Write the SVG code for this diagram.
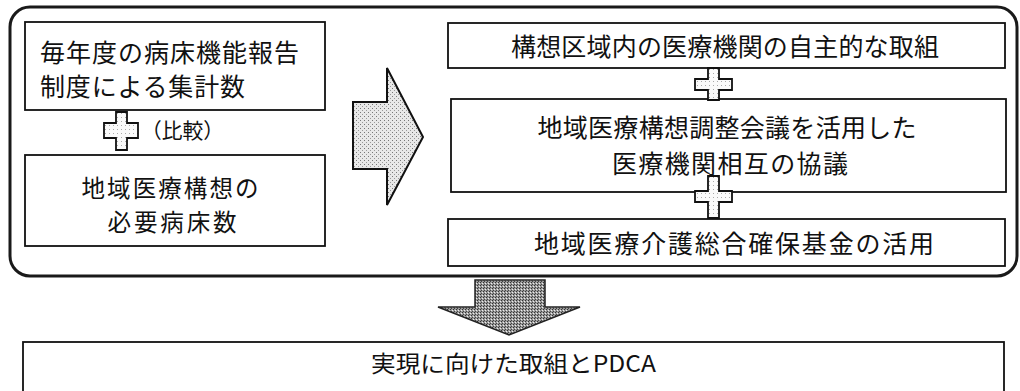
<svg xmlns="http://www.w3.org/2000/svg" width="1020" height="391" viewBox="0 0 1020 391">
<defs>
<pattern id="dots" width="4" height="4" patternUnits="userSpaceOnUse">
<rect width="4" height="4" fill="#e8e8e8"/>
<rect x="0" y="0" width="1" height="1" fill="#777"/>
<rect x="2" y="2" width="1" height="1" fill="#999"/>
</pattern>
<pattern id="dark" width="3" height="3" patternUnits="userSpaceOnUse">
<rect width="3" height="3" fill="#9a9a9a"/>
<rect x="0" y="0" width="1" height="1" fill="#333"/>
<rect x="2" y="1" width="1" height="1" fill="#eee"/>
<rect x="1" y="2" width="1" height="1" fill="#444"/>
</pattern>
<pattern id="light" width="4" height="4" patternUnits="userSpaceOnUse">
<rect width="4" height="4" fill="#fafafa"/>
<rect x="1" y="1" width="1" height="1" fill="#aaa"/>
</pattern>
</defs>
<style>
.box{fill:#fff;stroke:#111;stroke-width:1.8}
.t{font-family:"Noto Sans CJK JP","Noto Sans CJK SC",sans-serif;font-size:25px;fill:#111}
.m{text-anchor:middle}
.cross{fill:url(#light);stroke:#111;stroke-width:1.8}
</style>
<rect width="1020" height="391" fill="#fff"/>
<g id="frame">
<rect x="10" y="7" width="1007" height="269" rx="20" ry="20" fill="none" stroke="#1a1a1a" stroke-width="3"/>
</g>
<g id="node-report">
<rect class="box" x="25" y="22" width="300" height="88"/>
<text class="t" x="40" y="61.5" textLength="259" lengthAdjust="spacing">毎年度の病床機能報告</text>
<text class="t" x="40" y="95.5" textLength="205" lengthAdjust="spacing">制度による集計数</text>
</g>
<g id="node-required">
<rect class="box" x="25" y="155" width="300" height="91"/>
<text class="t m" x="170" y="197" style="font-size:23.5px" textLength="177" lengthAdjust="spacing">地域医療構想の</text>
<text class="t m" x="172" y="231" style="font-size:23.5px" textLength="129" lengthAdjust="spacing">必要病床数</text>
</g>
<g id="node-voluntary">
<rect class="box" x="448" y="23" width="557" height="45"/>
<text class="t m" x="725" y="55.5" textLength="428" lengthAdjust="spacing">構想区域内の医療機関の自主的な取組</text>
</g>
<g id="node-council">
<rect class="box" x="451" y="99" width="555" height="93"/>
<text class="t m" x="727" y="136.5" textLength="379" lengthAdjust="spacing">地域医療構想調整会議を活用した</text>
<text class="t m" x="730" y="172.5" textLength="236" lengthAdjust="spacing">医療機関相互の協議</text>
</g>
<g id="node-fund">
<rect class="box" x="448" y="219" width="557" height="47"/>
<text class="t m" x="734" y="252.5" textLength="400" lengthAdjust="spacing">地域医療介護総合確保基金の活用</text>
</g>
<g id="node-pdca">
<rect class="box" x="23" y="342" width="981" height="60"/>
<text class="t m" x="513.5" y="372" style="font-size:23px" textLength="285" lengthAdjust="spacingAndGlyphs">実現に向けた取組とPDCA</text>
</g>
<g id="connectors">
<path class="cross" d="M116,112 H127 V123 H138 V138 H127 V150 H116 V138 H104 V123 H116 Z"/>
<text class="t" x="141" y="137.5" style="font-size:21px" textLength="83" lengthAdjust="spacingAndGlyphs">（比較）</text>
<path class="cross" d="M708,68 H719 V79 H732 V90 H719 V100 H708 V90 H695 V79 H708 Z"/>
<path class="cross" d="M708,176 H719 V191 H732 V202 H719 V218 H708 V202 H695 V191 H708 Z"/>
<path d="M353,102 H387 V68 L423,137 L387,205 V169 H353 Z" fill="url(#dots)" stroke="#111" stroke-width="2"/>
<path d="M475,280 H545 V307 H580 L509,335 L438,307 H475 Z" fill="url(#dark)" stroke="#222" stroke-width="1.5"/>
</g>
</svg>
